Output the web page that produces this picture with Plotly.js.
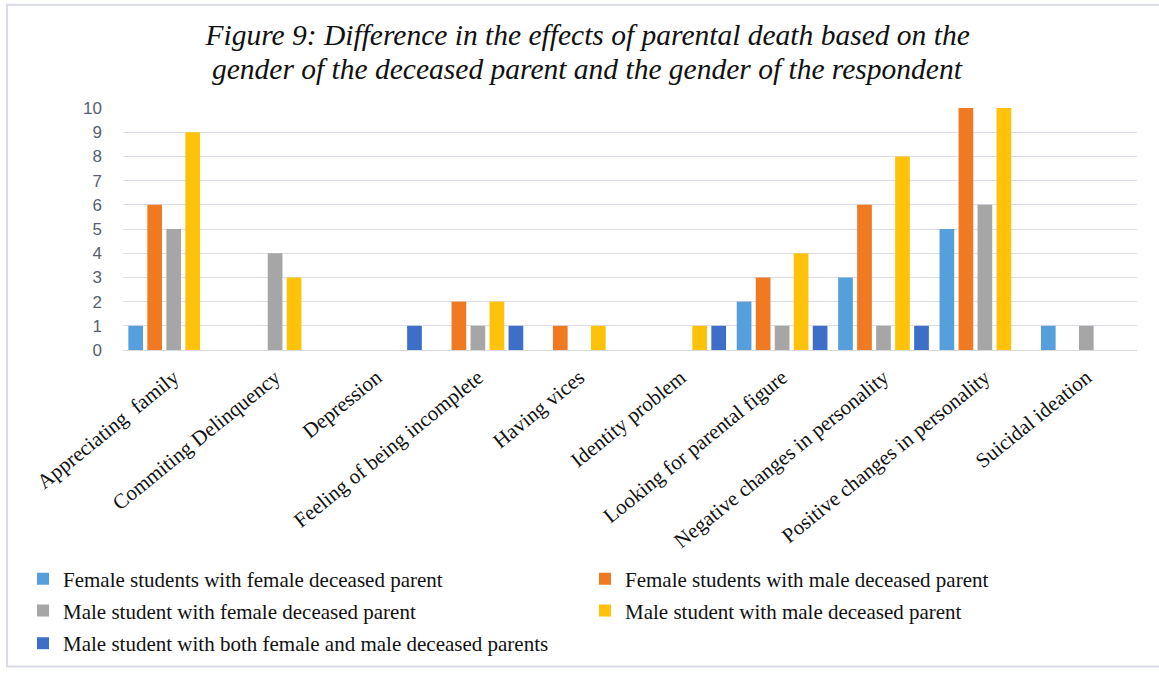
<!DOCTYPE html>
<html>
<head>
<meta charset="utf-8">
<script src="https://cdn.plot.ly/plotly-3.0.1.min.js"></script>
<style>html,body{margin:0;padding:0;background:#fff;}#chart{width:1159px;height:675px;}</style>
</head>
<body>
<div id="chart"></div>
<script>
var categories = ["Appreciating  family", "Commiting Delinquency", "Depression", "Feeling of being incomplete", "Having vices", "Identity problem", "Looking for parental figure", "Negative changes in personality", "Positive changes in personality", "Suicidal ideation"];
var seriesNames = ["Female students with female deceased parent", "Female students with male deceased parent", "Male student with female deceased parent", "Male student with male deceased parent", "Male student with both female and male deceased parents"];
var femaleFemale = [1, 0, 0, 0, 0, 0, 2, 3, 5, 1];
var femaleMale   = [6, 0, 0, 2, 1, 0, 3, 6, 10, 0];
var maleFemale   = [5, 4, 0, 1, 0, 0, 1, 1, 6, 1];
var maleMale     = [9, 3, 0, 2, 1, 1, 4, 8, 10, 0];
var maleBoth     = [0, 0, 1, 1, 0, 1, 1, 1, 0, 0];
var yTicks = [0,1,2,3,4,5,6,7,8,9,10];
var titleLine1 = "Figure 9: Difference in the effects of parental death based on the";
var titleLine2 = "gender of the deceased parent and the gender of the respondent";

var colors = ["#55a0dc", "#f07a22", "#a6a6a6", "#ffc20a", "#3e6fc8"];
var values = [femaleFemale, femaleMale, maleFemale, maleMale, maleBoth];
var legendIds = ["legend", "legend2", "legend3", "legend4", "legend5"];

var traces = values.map(function(v, i){
  return {
    type: "bar",
    name: seriesNames[i],
    x: categories,
    y: v,
    marker: {color: colors[i], line: {width: 0}},
    legend: legendIds[i],
    hoverinfo: "x+y+name"
  };
});

var L = 123, R = 1137, T = 108, B = 352;
function px2x(p){ return (p - L) / (R - L); }
function py2y(p){ return (B - p) / (B - T); }

var legendFont = {family: "Liberation Serif, serif", size: 21, color: "#111"};
function mkLegend(pxLeft, py){
  return {
    orientation: "v",
    x: px2x(pxLeft), xanchor: "left",
    y: py2y(py), yanchor: "middle",
    itemwidth: 30,
    font: legendFont,
    bgcolor: "rgba(0,0,0,0)"
  };
}

var layout = {
  width: 1159, height: 675,
  margin: {l: L, r: 1159 - R, t: T, b: 675 - B, pad: 0},
  paper_bgcolor: "#ffffff",
  plot_bgcolor: "#ffffff",
  barmode: "group",
  bargap: 0.063,
  bargroupgap: 0.226,
  title: {
    text: titleLine1,
    font: {family: "Liberation Serif, serif", size: 29.5, color: "#111", style: "italic"},
    x: 0.507, xanchor: "center", xref: "container",
    y: 1 - 35/675, yanchor: "middle", yref: "container"
  },
  annotations: [{
    text: titleLine2,
    xref: "paper", yref: "paper",
    x: px2x(587), y: py2y(69), xanchor: "center", yanchor: "middle",
    showarrow: false,
    font: {family: "Liberation Serif, serif", size: 29.5, color: "#111", style: "italic"}
  }],
  xaxis: {
    type: "category",
    tickangle: -39,
    tickfont: {family: "Liberation Serif, serif", size: 21, color: "#111"},
    showgrid: false,
    showline: true, linecolor: "#d9d9d9", linewidth: 1,
    ticks: "", ticklabelstandoff: 6,
    automargin: false
  },
  yaxis: {
    range: [0, 10],
    tickvals: yTicks,
    ticktext: yTicks.map(String),
    tickfont: {family: "Liberation Sans, Arial, sans-serif", size: 17, color: "#595f6e"},
    showgrid: true, gridcolor: "#dcdce8", gridwidth: 1,
    zeroline: true, zerolinecolor: "#d9d9d9", zerolinewidth: 1,
    ticks: "", ticklabelstandoff: 20,
    automargin: false, fixedrange: true
  },
  legend: mkLegend(23, 583),
  legend2: mkLegend(585, 583),
  legend3: mkLegend(23, 615),
  legend4: mkLegend(585, 615),
  legend5: mkLegend(23, 648),
  shapes: [{
    type: "rect", xref: "paper", yref: "paper",
    x0: px2x(7), x1: px2x(1162), y0: py2y(4), y1: py2y(671),
    line: {color: "#d9dce6", width: 2}, fillcolor: "rgba(0,0,0,0)", layer: "below"
  }],
  showlegend: true
};

Plotly.newPlot("chart", traces, layout, {displayModeBar: false, staticPlot: true});
</script>
</body>
</html>
